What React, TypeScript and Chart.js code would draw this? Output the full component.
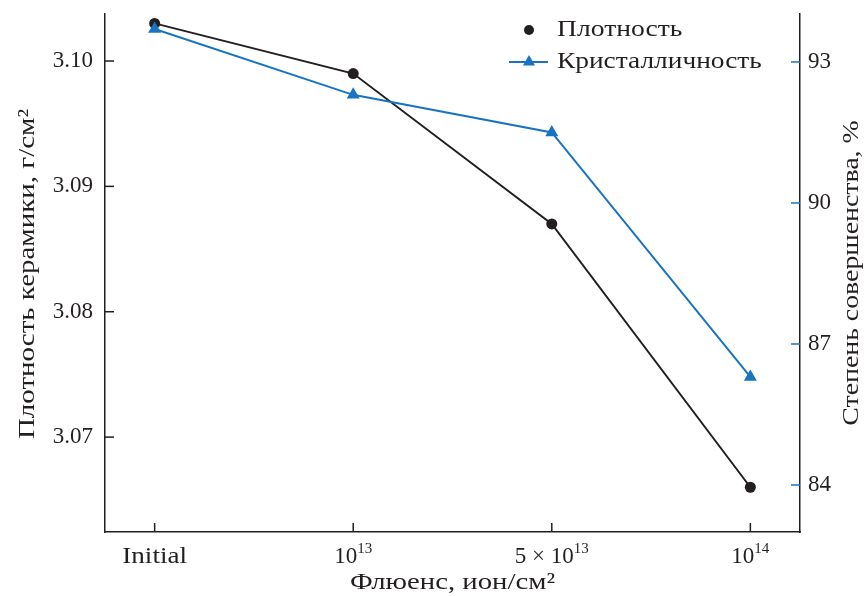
import React, { useEffect, useRef } from "react";
import { Chart, registerables } from "chart.js";

Chart.register(...registerables);

// ---- data ----
const categoryBases = ["Initial", "10", "5 × 10", "10"];
const categoryExponents = ["", "13", "13", "14"];
const densityValues = [3.103, 3.099, 3.087, 3.066];
const crystallinityValues = [93.7, 92.3, 91.5, 86.3];
const densityTicks = [3.07, 3.08, 3.09, 3.1];
const crystallinityTicks = [84, 87, 90, 93];

const densityLabel = "Плотность";
const crystallinityLabel = "Кристалличность";
const xTitle = "Флюенс, ион/см²";
const yLeftTitle = "Плотность керамики, г/см²";
const yRightTitle = "Степень совершенства, %";

const BLACK = "#231f20";
const BLUE = "#1874c2";
const FONT = "Liberation Serif";
const FS = 23;
const WIDE = 1.21;

function wideText(ctx: CanvasRenderingContext2D, text: string, x: number, y: number, align: "left" | "center", sx = WIDE) {
  ctx.save();
  ctx.translate(x, y);
  ctx.scale(sx, 1);
  ctx.textAlign = align;
  ctx.fillText(text, 0, 0);
  ctx.restore();
}

const overlayPlugin = {
  id: "overlay",
  afterDraw(chart: any) {
    const ctx = chart.ctx as CanvasRenderingContext2D;
    const area = chart.chartArea;
    const xs = chart.scales.x;
    const yl = chart.scales.y;
    const yr = chart.scales.y2;
    ctx.save();

    // inward ticks
    ctx.lineWidth = 1.5;
    ctx.strokeStyle = BLACK;
    densityTicks.forEach((v) => {
      const py = yl.getPixelForValue(v);
      ctx.beginPath();
      ctx.moveTo(area.left, py);
      ctx.lineTo(area.left + 9, py);
      ctx.stroke();
    });
    categoryBases.forEach((_, i) => {
      const px = xs.getPixelForValue(i);
      ctx.beginPath();
      ctx.moveTo(px, area.bottom);
      ctx.lineTo(px, area.bottom - 9);
      ctx.stroke();
    });
    ctx.strokeStyle = BLUE;
    crystallinityTicks.forEach((v) => {
      const py = yr.getPixelForValue(v);
      ctx.beginPath();
      ctx.moveTo(area.right, py);
      ctx.lineTo(area.right - 9, py);
      ctx.stroke();
    });

    // x tick labels with superscripts
    ctx.fillStyle = BLACK;
    ctx.textBaseline = "alphabetic";
    ctx.textAlign = "left";
    const baseY = area.bottom + 31;
    const expFont = `${Math.round(FS * 0.65)}px "${FONT}"`;
    const baseFont = `${FS}px "${FONT}"`;
    categoryBases.forEach((base, i) => {
      const exp = categoryExponents[i];
      const px = xs.getPixelForValue(i);
      ctx.font = baseFont;
      if (!exp) {
        wideText(ctx, base, px, baseY, "center", 1.18);
        return;
      }
      const wb = ctx.measureText(base).width;
      ctx.font = expFont;
      const we = ctx.measureText(exp).width;
      const start = px - (wb + we) / 2;
      ctx.font = baseFont;
      ctx.fillText(base, start, baseY);
      ctx.font = expFont;
      ctx.fillText(exp, start + wb, baseY - 10);
    });

    ctx.font = baseFont;
    ctx.textBaseline = "middle";
    // x title
    wideText(ctx, xTitle, (area.left + area.right) / 2, area.bottom + 51, "center", 1.25);

    // left title
    const midY = (area.top + area.bottom) / 2;
    ctx.save();
    ctx.translate(28, midY + 1);
    ctx.rotate(-Math.PI / 2);
    wideText(ctx, yLeftTitle, 0, 0, "center", 1.26);
    ctx.restore();

    // right title
    ctx.save();
    ctx.translate(area.right + 52, midY);
    ctx.rotate(-Math.PI / 2);
    wideText(ctx, yRightTitle, 0, 0, "center", 1.21);
    ctx.restore();

    // legend
    const lx = area.right - 271;
    const ly1 = area.top + 16;
    const ly2 = area.top + 48;
    ctx.fillStyle = BLACK;
    ctx.beginPath();
    ctx.arc(lx, ly1, 5, 0, Math.PI * 2);
    ctx.fill();
    ctx.strokeStyle = BLUE;
    ctx.lineWidth = 2;
    ctx.beginPath();
    ctx.moveTo(lx - 20, ly2);
    ctx.lineTo(lx + 19, ly2);
    ctx.stroke();
    ctx.fillStyle = BLUE;
    const r = 7;
    ctx.beginPath();
    ctx.moveTo(lx, ly2 - r);
    ctx.lineTo(lx + r * 0.866, ly2 + r * 0.5);
    ctx.lineTo(lx - r * 0.866, ly2 + r * 0.5);
    ctx.closePath();
    ctx.fill();
    ctx.fillStyle = BLACK;
    ctx.font = baseFont;
    wideText(ctx, densityLabel, lx + 28, ly1, "left", 1.2);
    wideText(ctx, crystallinityLabel, lx + 28, ly2, "left", 1.19);

    ctx.restore();
  },
};

export default function App() {
  const ref = useRef<HTMLCanvasElement | null>(null);
  useEffect(() => {
    if (!ref.current) return;
    const chart = new Chart(ref.current, {
      type: "line",
      data: {
        datasets: [
          {
            label: densityLabel,
            data: densityValues.map((v, i) => ({ x: i, y: v })),
            yAxisID: "y",
            borderColor: BLACK,
            backgroundColor: BLACK,
            borderWidth: 2,
            pointStyle: "circle",
            pointRadius: 5.5,
            pointBorderWidth: 0,
            order: 1,
          },
          {
            label: crystallinityLabel,
            data: crystallinityValues.map((v, i) => ({ x: i, y: v })),
            yAxisID: "y2",
            borderColor: BLUE,
            backgroundColor: BLUE,
            borderWidth: 2,
            pointStyle: "triangle",
            pointRadius: 7.5,
            pointBorderWidth: 0,
            order: 0,
          },
        ],
      },
      options: {
        responsive: false,
        animation: false,
        devicePixelRatio: 1,
        layout: { padding: { top: 14, left: 0, right: 0, bottom: 0 } },
        plugins: { legend: { display: false }, tooltip: { enabled: false } },
        scales: {
          x: {
            type: "linear",
            min: -0.25,
            max: 3.25,
            grid: { display: false, drawTicks: false },
            border: { display: true, color: BLACK, width: 1.5 },
            ticks: { display: false },
            afterFit: (s: any) => {
              s.height = 64;
              s.paddingLeft = 0;
              s.paddingRight = 0;
            },
          },
          y: {
            type: "linear",
            position: "left",
            min: 3.06243,
            max: 3.10375,
            grid: { display: false, drawTicks: false },
            border: { display: true, color: BLACK, width: 1.5 },
            afterBuildTicks: (s: any) => {
              s.ticks = densityTicks.map((v) => ({ value: v }));
            },
            ticks: {
              color: BLACK,
              padding: 12,
              font: { family: FONT, size: FS },
              callback: (v: any) => Number(v).toFixed(2),
            },
            afterFit: (s: any) => {
              s.width = 105;
              s.paddingTop = 0;
              s.paddingBottom = 0;
            },
          },
          y2: {
            type: "linear",
            position: "right",
            min: 83,
            max: 94.02,
            grid: { display: false, drawTicks: false },
            border: { display: true, color: BLACK, width: 1.5 },
            afterBuildTicks: (s: any) => {
              s.ticks = crystallinityTicks.map((v) => ({ value: v }));
            },
            ticks: {
              color: BLACK,
              padding: 8,
              font: { family: FONT, size: FS },
              callback: (v: any) => String(v),
            },
            afterFit: (s: any) => {
              s.width = 65;
              s.paddingTop = 0;
              s.paddingBottom = 0;
            },
          },
        },
      },
      plugins: [overlayPlugin],
    } as any);
    return () => chart.destroy();
  }, []);
  return (
    <div style={{ position: "fixed", left: 0, top: 0, width: 865, height: 596, background: "#fff" }}>
      <canvas ref={ref} width={865} height={596} />
    </div>
  );
}
